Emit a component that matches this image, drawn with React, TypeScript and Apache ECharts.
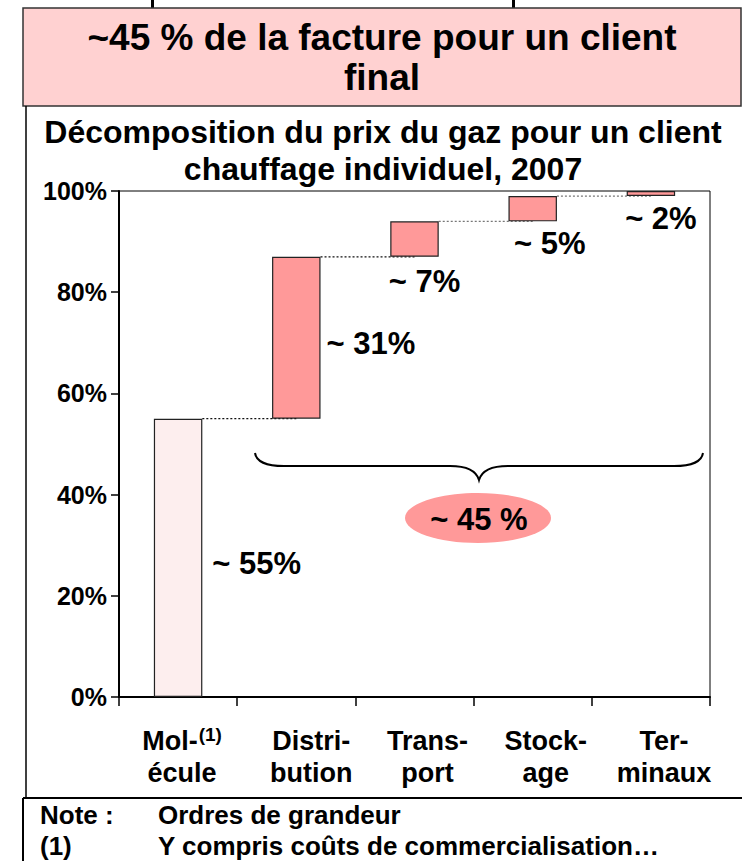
import React, { useEffect, useRef } from "react";
import * as echarts from "echarts";

// ---- data ----
const categoryLine1 = ["Mol-", "Distri-", "Trans-", "Stock-", "Ter-"];
const categoryLine2 = ["écule", "bution", "port", "age", "minaux"];
const categoryMarks = ["(1)", "", "", "", ""];
const barLow = [0, 55, 87, 94, 99];
const barHigh = [55, 87, 94, 99, 100];
const valueLabels = ["~ 55%", "~ 31%", "~ 7%", "~ 5%", "~ 2%"];
const connectorLevels = [55, 87, 94, 99];
const yTickValues = [0, 20, 40, 60, 80, 100];

const headerText = "~45 % de la facture pour un client\nfinal";
const chartTitle = "Décomposition du prix du gaz pour un client\nchauffage individuel, 2007";
const braceLabel = "~ 45 %";
const notesLeft = ["Note :", "(1)"];
const notesRight = ["Ordres de grandeur", "Y compris coûts de commercialisation…"];

const FONT = "'Liberation Sans', Arial, Helvetica, sans-serif";

const braceD =
  "M255,453 Q257,466 284,466 L450,466 Q475,466 479,480 Q483,466 508,466 L674,466 Q701,466 703,453";
echarts.graphic.registerShape("brace", echarts.graphic.extendPath(braceD, {}));

export default function App() {
  const ref = useRef<HTMLDivElement | null>(null);

  useEffect(() => {
    if (!ref.current) return;
    const chart = echarts.init(ref.current, null, { renderer: "svg" });
    const categories = categoryLine1.map((l, i) => l + categoryLine2[i]);
    const heights = barHigh.map((h, i) => h - barLow[i]);
    const labelCfg = [
      { position: "right", distance: 10, offset: [0, 6] },
      { position: "right", distance: 6, offset: [0, 6] },
      { position: "bottom", distance: 9, offset: [10, 0] },
      { position: "bottom", distance: 7, offset: [17, 0] },
      { position: "bottom", distance: 7, offset: [10, 0] },
    ];
    const connectorColors = ["#111", "#111", "#777", "#777"];
    const labelShift = [4, 15, 13, 13, 13];
    const rich: any = {
      s: {
        fontFamily: FONT,
        fontSize: 19,
        fontWeight: "bold",
        color: "#000",
        lineHeight: 18,
        verticalAlign: "top",
        padding: [0, 0, 6, 1],
      },
    };
    labelShift.forEach((sh, i) => {
      rich["a" + i] = {
        fontFamily: FONT,
        fontSize: 27,
        fontWeight: "bold",
        color: "#000",
        lineHeight: 32,
        padding: [0, 0, 0, sh * 2],
      };
    });

    const option: any = {
      animation: false,
      backgroundColor: "#fff",
      grid: {
        left: 119,
        right: 32,
        top: 191,
        bottom: 164,
        show: true,
        borderColor: "#000",
        borderWidth: 1,
        backgroundColor: "transparent",
      },
      xAxis: {
        type: "category",
        data: categories,
        axisLine: { lineStyle: { color: "#000", width: 2 } },
        axisTick: { show: true, length: 9, lineStyle: { color: "#000", width: 1.5 } },
        axisLabel: {
          margin: 28,
          interval: 0,
          formatter: (_v: string, i: number) =>
            `{a${i}|${categoryLine1[i]}}` +
            (categoryMarks[i] ? `{s|${categoryMarks[i]}}` : "") +
            `\n{a${i}|${categoryLine2[i]}}`,
          rich,
        },
      },
      yAxis: {
        type: "value",
        min: 0,
        max: 100,
        interval: 20,
        axisLine: { show: true, lineStyle: { color: "#000", width: 2 } },
        axisTick: { show: true, length: 8, lineStyle: { color: "#000", width: 1.5 } },
        splitLine: { show: false },
        axisLabel: {
          margin: 12,
          formatter: (v: number) => (yTickValues.includes(v) ? `${v}%` : ""),
          fontFamily: FONT,
          fontSize: 25,
          fontWeight: "bold",
          color: "#000",
        },
      },
      series: [
        {
          type: "custom",
          z: 1,
          encode: { x: 0, y: 1 },
          data: connectorLevels.map((v, i) => [i, v]),
          renderItem: (_p: any, api: any) => {
            const i = api.value(0);
            const v = api.value(1);
            const p0 = api.coord([i, v]);
            const p1 = api.coord([i + 1, v]);
            const bw = api.size([1, 0])[0] * 0.41;
            return {
              type: "line",
              shape: { x1: p0[0] + bw / 2, y1: p0[1], x2: p1[0], y2: p1[1] },
              style: { stroke: connectorColors[i], lineWidth: 1.2, lineDash: [2, 2] },
            };
          },
        },
        {
          type: "bar",
          stack: "w",
          z: 2,
          barWidth: "41%",
          silent: true,
          itemStyle: { color: "transparent" },
          data: barLow,
        },
        {
          type: "bar",
          stack: "w",
          z: 3,
          barWidth: "41%",
          data: heights.map((h, i) => ({
            value: h,
            itemStyle: {
              color: i === 0 ? "#fdeeee" : "#ff9999",
              borderColor: "#222",
              borderWidth: 1.2,
            },
            label: {
              show: true,
              formatter: valueLabels[i],
              position: labelCfg[i].position,
              distance: labelCfg[i].distance,
              offset: labelCfg[i].offset,
              fontFamily: FONT,
              fontSize: 31,
              fontWeight: "bold",
              color: "#000",
            },
          })),
        },
      ],
      graphic: [
        // cropped fragments at the very top
        { type: "rect", shape: { x: 151, y: 0, width: 3, height: 8 }, style: { fill: "#000" } },
        { type: "rect", shape: { x: 512, y: 0, width: 3, height: 8 }, style: { fill: "#000" } },
        // header box
        {
          type: "rect",
          shape: { x: 23, y: 8, width: 718, height: 98 },
          style: { fill: "#ffd1d1", stroke: "#333", lineWidth: 1.5 },
        },
        {
          type: "text",
          x: 382,
          y: 57,
          style: {
            text: headerText,
            fontFamily: FONT,
            fontSize: 37,
            fontWeight: "bold",
            fill: "#000",
            align: "center",
            verticalAlign: "middle",
            lineHeight: 40,
          },
        },
        // panel left border
        { type: "line", shape: { x1: 26, y1: 106, x2: 26, y2: 798 }, style: { stroke: "#000", lineWidth: 1.5 } },
        // chart title
        {
          type: "text",
          x: 383,
          y: 150,
          style: {
            text: chartTitle,
            fontFamily: FONT,
            fontSize: 32,
            fontWeight: "bold",
            fill: "#000",
            align: "center",
            verticalAlign: "middle",
            lineHeight: 37,
          },
        },
        // brace
        { type: "brace", x: 0, y: 0, style: { fill: "none", stroke: "#000", lineWidth: 2 } },
        // ellipse + label
        { type: "ellipse", shape: { cx: 478, cy: 518, rx: 73, ry: 25 }, style: { fill: "#ff9999" } },
        {
          type: "text",
          x: 479,
          y: 519,
          style: {
            text: braceLabel,
            fontFamily: FONT,
            fontSize: 31,
            fontWeight: "bold",
            fill: "#000",
            align: "center",
            verticalAlign: "middle",
          },
        },
        // notes box
        { type: "line", shape: { x1: 23, y1: 798, x2: 742, y2: 798 }, style: { stroke: "#000", lineWidth: 2 } },
        { type: "line", shape: { x1: 23, y1: 798, x2: 23, y2: 861 }, style: { stroke: "#000", lineWidth: 2 } },
        ...notesLeft.map((t, i) => ({
          type: "text",
          x: 40,
          y: 815 + i * 31,
          style: { text: t, fontFamily: FONT, fontSize: 26, fontWeight: "bold", fill: "#000", verticalAlign: "middle" },
        })),
        ...notesRight.map((t, i) => ({
          type: "text",
          x: 158,
          y: 815 + i * 31,
          style: { text: t, fontFamily: FONT, fontSize: 26, fontWeight: "bold", fill: "#000", verticalAlign: "middle" },
        })),
      ],
    };
    chart.setOption(option);
    return () => chart.dispose();
  }, []);

  return (
    <div
      ref={ref}
      style={{ position: "absolute", left: 0, top: 0, width: 742, height: 861, background: "#fff" }}
    />
  );
}
